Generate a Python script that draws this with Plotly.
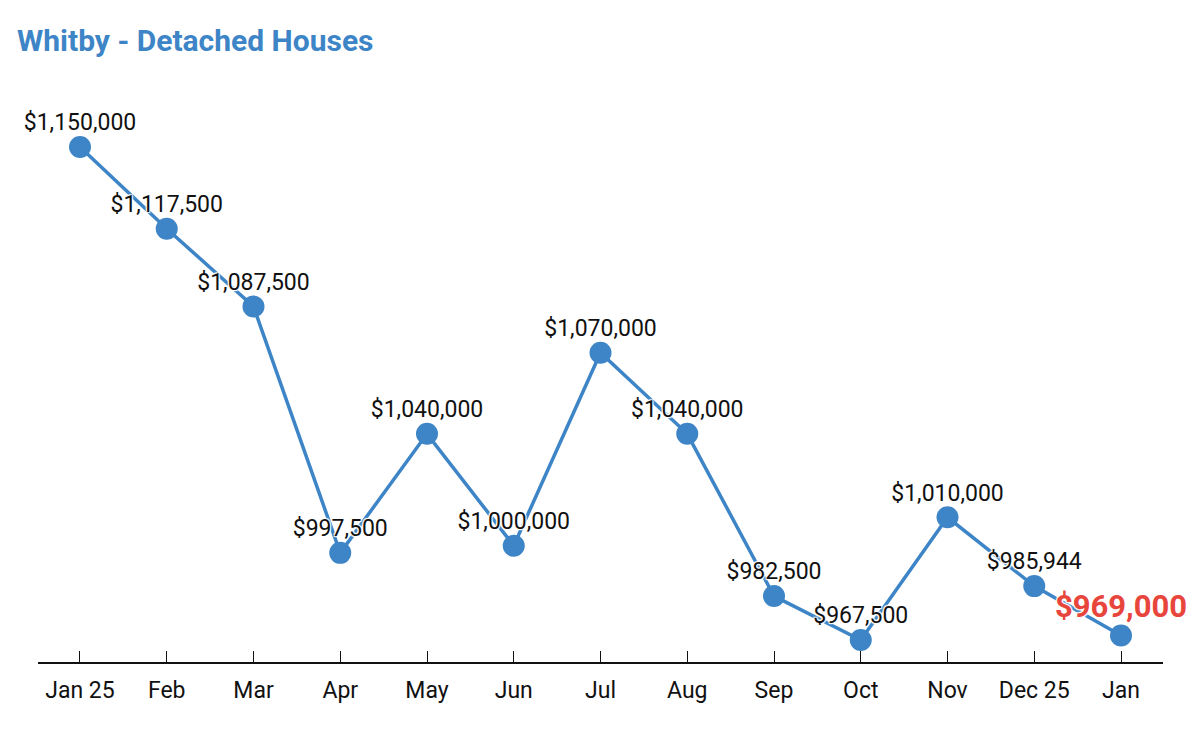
import plotly.graph_objects as go

months = ["Jan 25", "Feb", "Mar", "Apr", "May", "Jun", "Jul", "Aug", "Sep", "Oct", "Nov", "Dec 25", "Jan"]
prices = [1150000, 1117500, 1087500, 997500, 1040000, 1000000, 1070000, 1040000, 982500, 967500, 1010000, 985944, 969000]

BLUE = "#3d85c6"
RED = "#e8453c"
x_idx = list(range(len(months)))
labels = ["${:,.0f}".format(v) for v in prices]

fig = go.Figure()
fig.add_trace(go.Scatter(
    x=x_idx, y=prices,
    mode="lines+markers",
    line=dict(color=BLUE, width=3.5),
    marker=dict(color=BLUE, size=22),
    cliponaxis=False,
    hoverinfo="skip",
))
fig.add_trace(go.Scatter(
    x=x_idx[:-1], y=prices[:-1],
    mode="markers+text",
    marker=dict(size=16, color="rgba(0,0,0,0)"),
    text=labels[:-1],
    textposition="top center",
    textfont=dict(family="Roboto", size=23, color="#111111", shadow="auto"),
    cliponaxis=False,
    hoverinfo="skip",
))
fig.add_trace(go.Scatter(
    x=[x_idx[-1]], y=[prices[-1]],
    mode="markers+text",
    marker=dict(size=15, color="rgba(0,0,0,0)"),
    text=[labels[-1]],
    textposition="top center",
    textfont=dict(family="Roboto", size=31, color=RED, weight="bold", shadow="auto"),
    cliponaxis=False,
    hoverinfo="skip",
))

fig.update_layout(
    width=1201, height=741,
    margin=dict(l=30, r=46, t=92, b=87),
    plot_bgcolor="white", paper_bgcolor="white",
    showlegend=False,
    title=dict(text="<b>Whitby - Detached Houses</b>", x=9/1201, xref="container", xanchor="left",
               y=1 - 32/741, yref="container", yanchor="middle",
               font=dict(family="Roboto", size=30, color=BLUE)),
)
fig.update_xaxes(
    range=[-0.484, 12.484],
    tickvals=x_idx, ticktext=months,
    showgrid=False, zeroline=False,
    showline=True, linecolor="#111111", linewidth=1.5,
    ticks="inside", ticklen=11, tickcolor="#111111", tickwidth=1,
    ticklabelstandoff=7,
    tickfont=dict(family="Roboto", size=23, color="#111111"),
)
fig.update_yaxes(
    type="log", range=[5.98230, 6.06785],
    showgrid=False, zeroline=False, showline=False,
    showticklabels=False, ticks="",
)

fig.write_html("out.html")
